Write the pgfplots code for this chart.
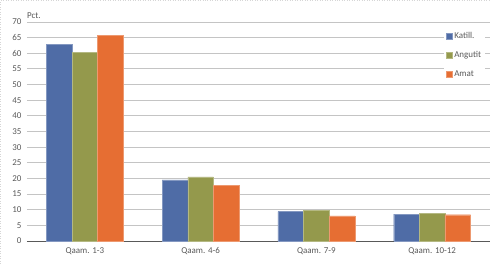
\documentclass[border=0pt]{standalone}
\usepackage{pgfplots}
\pgfplotsset{compat=1.18}
\usepackage{fontspec}
\setmainfont{Carlito}
\definecolor{cblue}{HTML}{4F6CA6}
\definecolor{cgreen}{HTML}{94994C}
\definecolor{corange}{HTML}{E66E33}
\definecolor{ctext}{HTML}{595959}
\definecolor{cgrid}{HTML}{C4C4C4}
\begin{document}
\begin{tikzpicture}
\draw[cgrid!70, dotted, line width=0.5pt] (0.25bp,0.25bp) rectangle (490.75bp,263.75bp);
\begin{axis}[
  at={(27bp,23bp)}, anchor=south west,
  scale only axis, width=463bp, height=219bp,
  xmin=-0.5, xmax=3.5, ymin=0, ymax=70,
  ytick distance=5,
  xtick={0,1,2,3},
  xticklabels={Qaam. 1-3, Qaam. 4-6, Qaam. 7-9, Qaam. 10-12},
  ymajorgrids, grid style={cgrid, line width=0.9pt},
  axis x line*=bottom, axis y line*=left,
  y axis line style={draw=none},
  x axis line style={draw=ctext, line width=0.8pt, -},
  major tick length=0pt,
  tick label style={font=\fontsize{9}{10}\selectfont, text=ctext},
  yticklabel style={xshift=-2bp},
  xticklabel style={yshift=-3bp},
  /pgf/number format/assume math mode=true,
  ybar=0pt, bar width=25.6bp,
  legend style={at={(axis description cs:0.9,0.978)}, anchor=north west,
    fill=white, draw=none, font=\fontsize{9}{10}\selectfont, text=ctext,
    row sep=7.5bp, inner xsep=2bp, inner ysep=3bp},
  legend cell align=left,
  legend image code/.code={\fill[#1] (0bp,-3bp) rectangle (6bp,3bp);},
  clip=false,
]
\addplot[fill=cblue, draw=cblue!70!white, line width=0.4pt] coordinates {(0,62.8) (1,19.5) (2,9.4) (3,8.6)};
\addplot[fill=cgreen, draw=cgreen!70!white, line width=0.4pt] coordinates {(0,60.3) (1,20.5) (2,9.9) (3,8.8)};
\addplot[fill=corange, draw=corange!70!white, line width=0.4pt] coordinates {(0,65.7) (1,17.7) (2,8.0) (3,8.4)};
\legend{Katill., Angutit, Amat}
\node[anchor=south west, font=\fontsize{9}{10}\selectfont, text=ctext, inner sep=0pt] at (rel axis cs:0,1) [yshift=3bp] {Pct.};
\end{axis}
\end{tikzpicture}
\end{document}
